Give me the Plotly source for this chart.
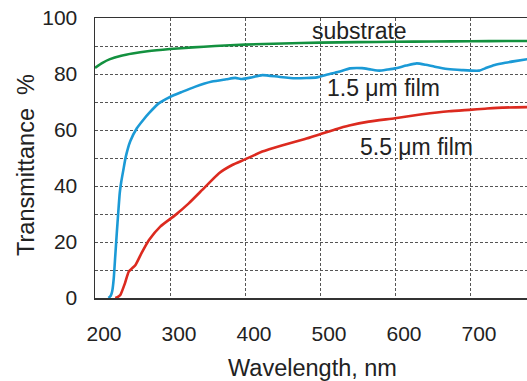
import plotly.graph_objects as go

# ---- data ----
sub_x = [200, 210, 220, 235, 250, 270, 300, 330, 360, 400, 450, 500, 550, 600, 650, 700, 750, 780]
sub_y = [82.2, 84.0, 85.3, 86.5, 87.3, 88.1, 88.9, 89.5, 90.0, 90.5, 90.9, 91.2, 91.4, 91.5, 91.6, 91.7, 91.8, 91.8]

f15_x = [218, 221, 223, 225, 227, 229, 231, 233, 235, 238, 241, 247, 256, 264, 272, 285, 300,
         316, 333, 356, 375, 387, 396, 407, 423, 445, 467, 496, 510, 525, 540, 556, 568, 579,
         590, 600, 615, 629, 641, 653, 670, 689, 712, 722, 733, 747, 760, 779]
f15_y = [0, 0.8, 2.5, 7, 15, 23, 30.5, 37.5, 41.5, 46, 50.4, 56, 60.7, 63.5, 66, 69.5, 71.8,
         73.6, 75.4, 77.3, 78.1, 78.6, 78.2, 78.7, 79.6, 79.0, 78.5, 78.8, 79.8, 80.8, 82.0, 82.1, 81.6, 81.2,
         81.6, 82.0, 83.0, 83.8, 83.3, 82.6, 81.8, 81.4, 81.2, 82.2, 83.2, 84.0, 84.6, 85.4]

f55_x = [227, 230, 234, 240, 245, 254, 262, 272, 287, 307, 325, 343, 365, 383, 400, 423, 449,
         480, 500, 520, 539, 565, 600, 636, 672, 699, 720, 743, 779]
f55_y = [0, 0.3, 1.2, 5.3, 9.4, 11.8, 16, 20.7, 25.5, 29.6, 33.8, 38.6, 44.5, 47.5, 49.5, 52.3, 54.5,
         56.8, 58.5, 60.2, 61.6, 63.0, 64.2, 65.6, 66.7, 67.2, 67.6, 68.0, 68.2]

labels = ["substrate", "1.5 \u03bcm film", "5.5 \u03bcm film"]
label_x = [553, 585, 629]
label_y = [95.4, 75.0, 53.9]

x_ticks = [200, 300, 400, 500, 600, 700]
y_ticks = [0, 20, 40, 60, 80, 100]

x_title = "Wavelength, nm"
y_title = "Transmittance  %"

colors = ["#13913f", "#1b9ad6", "#dc2a1f"]

FONT = "Liberation Sans, Arial, sans-serif"
TXT = "#222222"

fig = go.Figure()
for xs, ys, c in [(sub_x, sub_y, colors[0]), (f15_x, f15_y, colors[1]), (f55_x, f55_y, colors[2])]:
    fig.add_trace(go.Scatter(x=xs, y=ys, mode="lines",
                             line=dict(color=c, width=2.6, shape="spline", smoothing=0.5),
                             showlegend=False, hoverinfo="skip"))

for t, x, y in zip(labels, label_x, label_y):
    fig.add_annotation(x=x, y=y, text=t, showarrow=False,
                       font=dict(family=FONT, size=23, color=TXT))

# axis titles
fig.add_annotation(xref="paper", yref="paper", x=0.5, y=0, xshift=1, yshift=-70,
                   xanchor="center", yanchor="middle", text=x_title, showarrow=False,
                   font=dict(family=FONT, size=23.5, color=TXT))
fig.add_annotation(xref="paper", yref="paper", x=0, y=0.5, xshift=-69, yshift=-7,
                   xanchor="center", yanchor="middle", text=y_title, textangle=-90,
                   showarrow=False, font=dict(family=FONT, size=23.5, color=TXT))

grid = dict(showgrid=True, gridcolor="#555555", gridwidth=1, griddash="3px,2px")

fig.update_layout(
    width=527, height=381,
    margin=dict(l=95, r=0, t=18, b=83),
    paper_bgcolor="white", plot_bgcolor="white",
    font=dict(family=FONT, size=21, color=TXT),
    xaxis=dict(range=[200, 776], tickvals=x_ticks, ticks="", **grid,
               showline=True, linecolor="#333333", linewidth=1.5, mirror=True,
               ticklabelshift=9, ticklabelstandoff=16,
               zeroline=False),
    yaxis=dict(range=[0, 100], tickvals=y_ticks, ticks="", **grid,
               minor=dict(dtick=10, showgrid=True, gridcolor="#555555", griddash="3px,2px", gridwidth=1),
               showline=True, linecolor="#333333", linewidth=1.5,
               ticklabelstandoff=12,
               zeroline=False),
)

fig.write_html("out.html", config={"displayModeBar": False, "staticPlot": True},
               post_script="document.body.style.margin='0';document.body.style.padding='0';"
                           "document.body.style.overflow='hidden';")
